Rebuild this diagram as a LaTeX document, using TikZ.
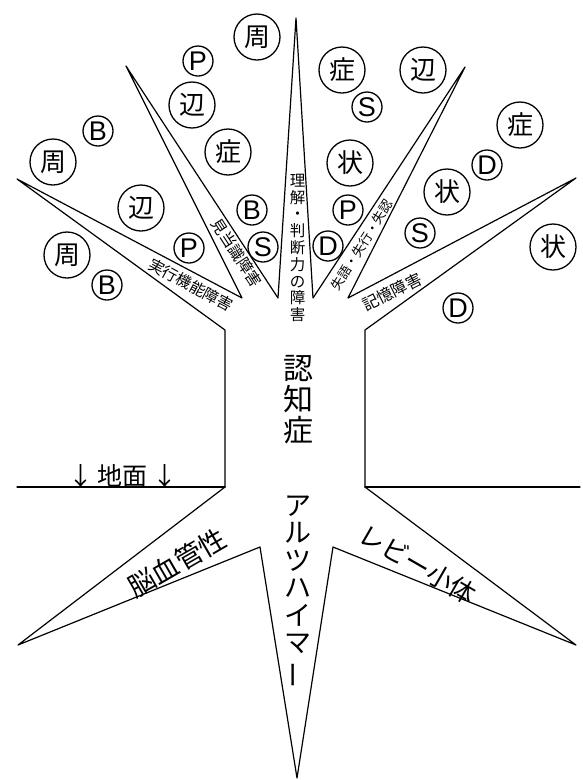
\documentclass[tikz,border=0pt]{standalone}
\usepackage{fontspec}
\newfontfamily\jp{Noto Sans CJK JP}
\newfontfamily\lat{Liberation Sans}
\begin{document}
\begin{tikzpicture}[x=1pt,y=-1pt,
  outline/.style={line width=1.2pt, line join=round, line cap=round},
  bigc/.style={circle, draw, line width=1.3pt, minimum size=46pt, inner sep=0pt, fill=white, font=\jp\fontsize{26}{26}\selectfont},
  smallc/.style={circle, draw, line width=1.3pt, minimum size=30pt, inner sep=0pt, fill=white, font=\lat\fontsize{27}{27}\selectfont},
  blbl/.style={inner sep=0pt, font=\jp\fontsize{15.5}{16.8}\selectfont},
  biglbl/.style={inner sep=0pt, align=center}]
\useasboundingbox (0,0) rectangle (582,780);
% named points of the outline
\coordinate (tl) at (225,330);
\coordinate (bl) at (225,487);
\coordinate (tr) at (365,330);
\coordinate (br) at (365,487);
\coordinate (t1) at (17,179);
\coordinate (v12) at (242,298);
\coordinate (t2) at (126,66);
\coordinate (v23) at (278,298);
\coordinate (t3) at (296,18);
\coordinate (v34) at (313,298);
\coordinate (t4) at (465,67);
\coordinate (v45) at (348,298);
\coordinate (t5) at (576,178);
\coordinate (rl) at (18,645);
\coordinate (nl) at (260,547);
\coordinate (rb) at (297,778);
\coordinate (nr) at (333,547);
\coordinate (rr) at (576,645);
\coordinate (gl) at (17,487);
\coordinate (gr) at (580,487);
% tree outline
\draw[outline] (bl) -- (tl) -- (t1) -- (v12) -- (t2) -- (v23) -- (t3) -- (v34) -- (t4) -- (v45) -- (t5) -- (tr) -- (br);
\draw[outline] (bl) -- (rl) -- (nl) -- (rb) -- (nr) -- (rr) -- (br);
\draw[outline] (gl) -- (bl);
\draw[outline] (br) -- (gr);
% ground label
\node[inner sep=0pt, anchor=south, font=\jp\fontsize{25}{25}\selectfont] (arrL) at (81,488) {↓};
\node[inner sep=0pt, anchor=south, font=\jp\fontsize{25}{25}\selectfont] (ground) at (122,488) {地面};
\node[inner sep=0pt, anchor=south, font=\jp\fontsize{25}{25}\selectfont] (arrR) at (165,488) {↓};
% trunk and roots
\node[biglbl, font=\jp\fontsize{30}{31}\selectfont] (trunk) at (298,400) {認\\知\\症};
\node[biglbl, font=\jp\fontsize{27}{27.5}\selectfont] (alz) at (298,592) {ア\\ル\\ツ\\ハ\\イ\\マ\\\rotatebox[origin=c]{90}{ー}};
\node[inner sep=0pt, font=\jp\fontsize{27}{27}\selectfont, rotate=30] (vasc) at (177,563) {脳血管性};
\node[inner sep=0pt, font=\jp\fontsize{26}{26}\selectfont, rotate=-30] (lewy) at (418,564) {レビー小体};
% branch labels
\node[blbl, rotate=-28] (b1) at (191,285) {実行機能障害};
\node[blbl, rotate=-57] (b2) at (237,253) {見当識障害};
\node[blbl, align=center] (b3) at (297.5,248) {理\\解\\・\\判\\断\\力\\の\\障\\害};
\node[inner sep=0pt, font=\jp\fontsize{13}{13}\selectfont, rotate=58] (b4) at (362,245) {失語・失行・失認};
\node[blbl, font=\jp\fontsize{16}{16}\selectfont, rotate=27] (b5) at (392,292) {記憶障害};
% leaves: large circles
\node[bigc] (c1) at (257,37) {周};
\node[bigc] (c2) at (192,105) {辺};
\node[bigc] (c3) at (228,152) {症};
\node[bigc] (c4) at (53,162) {周};
\node[bigc] (c5) at (141,208) {辺};
\node[bigc] (c6) at (67,255) {周};
\node[bigc] (c7) at (342,70) {症};
\node[bigc] (c8) at (423,70) {辺};
\node[bigc] (c9) at (520,125) {症};
\node[bigc] (c10) at (350,163) {状};
\node[bigc] (c11) at (447,192) {状};
\node[bigc] (c12) at (553,247) {状};
% leaves: small circles
\node[smallc] (s1) at (198,61) {P};
\node[smallc] (s2) at (252,210) {B};
\node[smallc] (s3) at (263,247) {S};
\node[smallc] (s4) at (98,131) {B};
\node[smallc] (s5) at (189,248) {P};
\node[smallc] (s6) at (107,285) {B};
\node[smallc] (s7) at (367,107) {S};
\node[smallc] (s8) at (487,165) {D};
\node[smallc] (s9) at (348,210) {P};
\node[smallc] (s10) at (420,233) {S};
\node[smallc] (s11) at (328,246) {D};
\node[smallc] (s12) at (458,308) {D};
\end{tikzpicture}
\end{document}
